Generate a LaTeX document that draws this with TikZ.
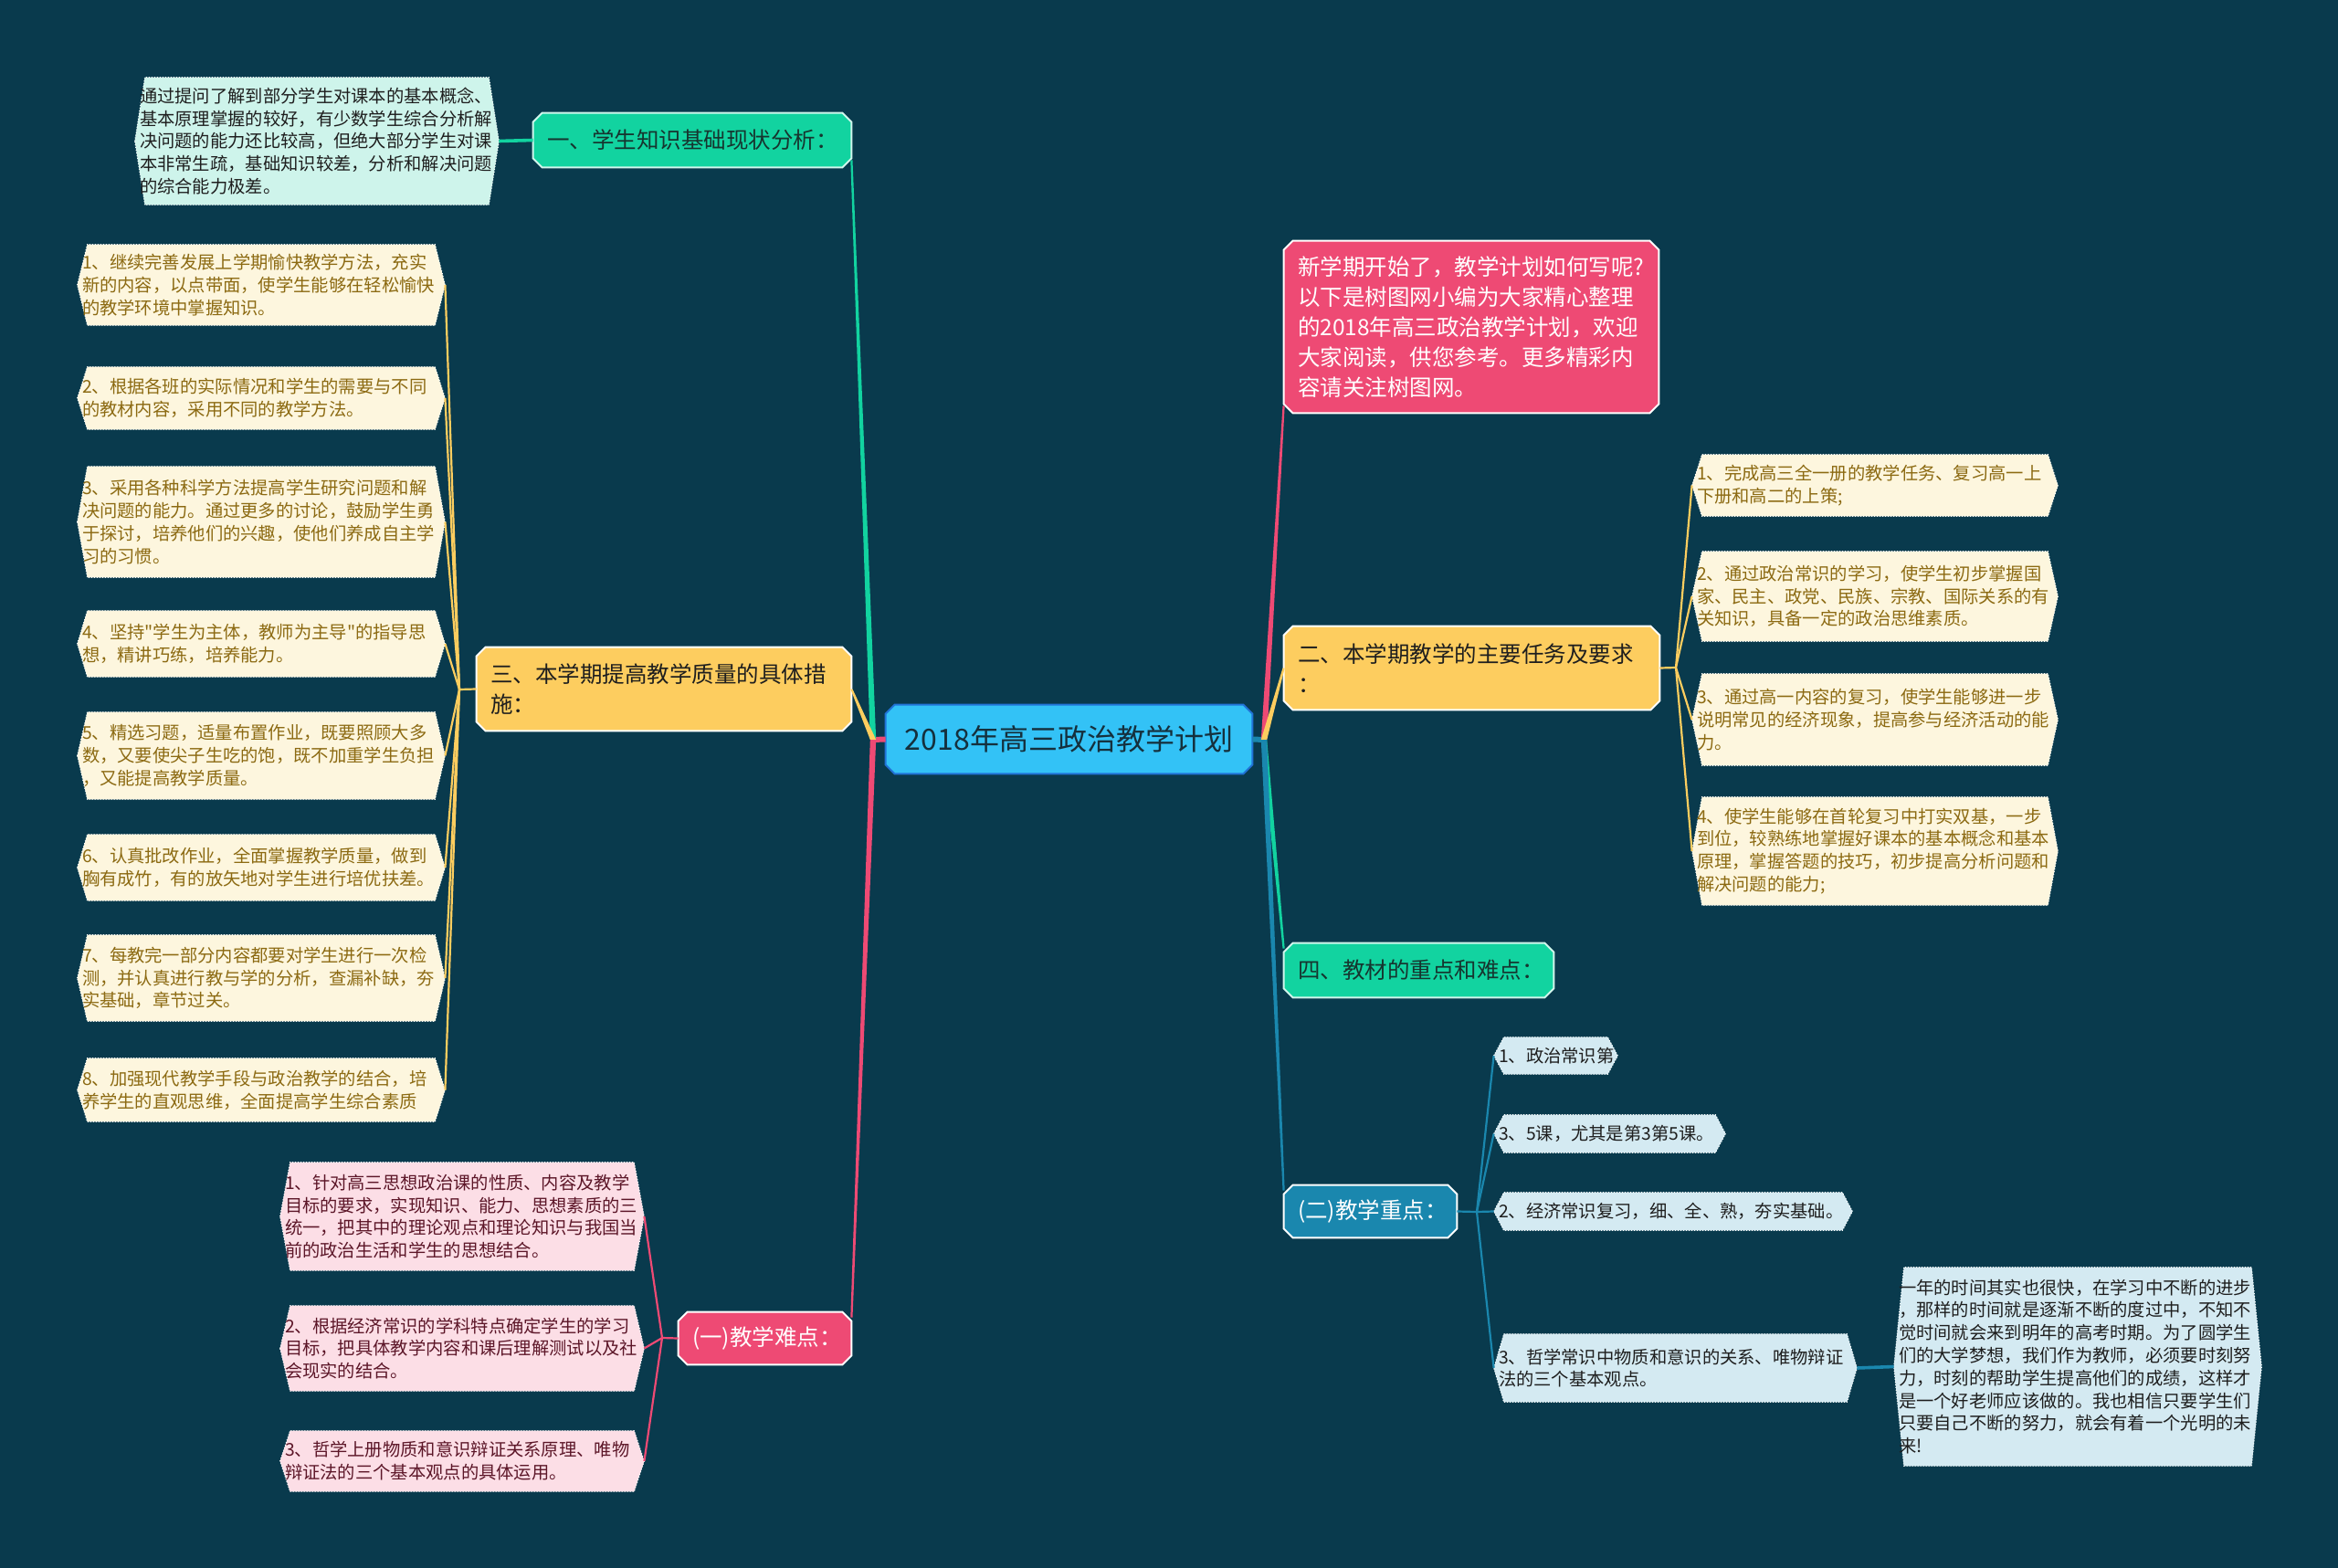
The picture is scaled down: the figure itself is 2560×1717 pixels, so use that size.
\documentclass[tikz,border=0pt]{standalone}
\usepackage{fontspec}
\setmainfont{Noto Sans CJK SC}[Ligatures=TeXOff]
\usetikzlibrary{backgrounds}
\definecolor{bgc}{HTML}{093A4D}
\definecolor{tealc}{HTML}{12D3A0}
\definecolor{yelc}{HTML}{FDCD5F}
\definecolor{pinkc}{HTML}{EE4A74}
\definecolor{dbluec}{HTML}{1A87AE}
\definecolor{centc}{HTML}{33C2F6}
\definecolor{centb}{HTML}{2173D6}
\definecolor{creamc}{HTML}{FDF6DE}
\definecolor{mintc}{HTML}{CEF4EB}
\definecolor{pinklc}{HTML}{FCDEE6}
\definecolor{bluelc}{HTML}{D4EAF2}
\definecolor{goldt}{HTML}{8C6A12}
\definecolor{maroont}{HTML}{5C1628}
\definecolor{darkt}{HTML}{1E1E1E}
\definecolor{tealt}{HTML}{16352F}
\definecolor{centt}{HTML}{15303D}

\tikzset{
  leaftext/.style={inner xsep=2.5pt, inner ysep=0pt, align=left, font=\fontsize{9.65pt}{12.4pt}\selectfont},
  bigtext/.style={inner xsep=7.5pt, inner ysep=0pt, align=left, font=\fontsize{12.25pt}{16.5pt}\selectfont},
  leafedge/.style={line width=1.1pt},
}

% #1 name, #2 fill colour, #3 text colour, #4 x1, #5 y1, #6 x2, #7 y2, #8 text
\newcommand{\leafnode}[8]{%
  \pgfmathsetlengthmacro\lfW{(#6-#4)*0.5pt-5pt}%
  \pgfmathsetlengthmacro\lfH{(#7-#5)*0.5pt}%
  \node[leaftext, text=#3, text width=\lfW, minimum height=\lfH] (#1) at ({(#4+#6)/2},{(#5+#7)/2}) {#8};
  \begin{pgfonlayer}{background}
  \path[fill=#2, draw=white, densely dotted, line width=0.5pt] (#1.west) -- ([xshift=5.5pt]#1.north west) -- ([xshift=-5.5pt]#1.north east) -- (#1.east) -- ([xshift=-5.5pt]#1.south east) -- ([xshift=5.5pt]#1.south west) -- cycle;
  \end{pgfonlayer}}

% #1 name, #2 fill/draw options, #3 text colour, #4 x1, #5 y1, #6 x2, #7 y2, #8 text
\newcommand{\bignode}[8]{%
  \pgfmathsetlengthmacro\lfW{(#6-#4)*0.5pt-15pt}%
  \pgfmathsetlengthmacro\lfH{(#7-#5)*0.5pt}%
  \node[bigtext, text=#3, text width=\lfW, minimum height=\lfH] (#1) at ({(#4+#6)/2},{(#5+#7)/2}) {#8};
  \begin{pgfonlayer}{background}
  \path[#2, line width=1pt] ([xshift=5pt]#1.north west) -- ([xshift=-5pt]#1.north east) -- ([yshift=-5pt]#1.north east) -- ([yshift=5pt]#1.south east) -- ([xshift=-5pt]#1.south east) -- ([xshift=5pt]#1.south west) -- ([yshift=5pt]#1.south west) -- ([yshift=-5pt]#1.north west) -- cycle;
  \end{pgfonlayer}}

% tapered branch: #1 colour, #2 start name, #3 end name
\newcommand{\taper}[3]{%
  \fill[#1] ([xshift=-1.6pt]#2) -- ([xshift=-0.55pt]#3) -- ([xshift=0.55pt]#3) -- ([xshift=1.6pt]#2) -- cycle;}

\begin{document}
\begin{tikzpicture}[x=0.5pt, y=-0.5pt]
\useasboundingbox (0,0) rectangle (2560,1717);
\begin{pgfonlayer}{background}
\fill[bgc] (0,0) rectangle (2560,1717);
\end{pgfonlayer}

% root
\node[font=\fontsize{16pt}{19pt}\selectfont, text=centt, minimum width=200.5pt, minimum height=37.5pt, inner sep=0pt] (root) at (1170.5,809.5) {2018年高三政治教学计划};
\begin{pgfonlayer}{background}
\path[fill=centc, draw=centb, line width=1pt] ([xshift=5pt]root.north west) -- ([xshift=-5pt]root.north east) -- ([yshift=-5pt]root.north east) -- ([yshift=5pt]root.south east) -- ([xshift=-5pt]root.south east) -- ([xshift=5pt]root.south west) -- ([yshift=5pt]root.south west) -- ([yshift=-5pt]root.north west) -- cycle;
\end{pgfonlayer}

% left main nodes
\bignode{A}{fill=tealc, draw=white!80!tealc}{tealt}{584}{124}{932}{183}{一、学生知识基础现状分析：}
\bignode{C}{fill=yelc, draw=white}{darkt}{522}{709}{932}{800}{三、本学期提高教学质量的具体措\\施：}
\bignode{D}{fill=pinkc, draw=white}{white}{743}{1437}{932}{1494}{(一)教学难点：}

% right main nodes
\bignode{I}{fill=pinkc, draw=white}{white}{1406}{264}{1816}{452}{新学期开始了，教学计划如何写呢?\\以下是树图网小编为大家精心整理\\的2018年高三政治教学计划，欢迎\\大家阅读，供您参考。更多精彩内\\容请关注树图网。}
\bignode{B}{fill=yelc, draw=white}{darkt}{1406}{686}{1817}{777}{二、本学期教学的主要任务及要求\\：}
\bignode{E}{fill=tealc, draw=white!80!tealc}{tealt}{1406}{1033}{1701}{1092}{四、教材的重点和难点：}
\bignode{F}{fill=dbluec, draw=white}{white}{1406}{1298}{1595}{1355}{(二)教学重点：}

% leaves
\leafnode{A1}{mintc}{darkt}{148}{85}{546}{224}{通过提问了解到部分学生对课本的基本概念、\\基本原理掌握的较好，有少数学生综合分析解\\决问题的能力还比较高，但绝大部分学生对课\\本非常生疏，基础知识较差，分析和解决问题\\的综合能力极差。}

\leafnode{C1}{creamc}{goldt}{85}{268}{487}{356}{1、继续完善发展上学期愉快教学方法，充实\\新的内容，以点带面，使学生能够在轻松愉快\\的教学环境中掌握知识。}
\leafnode{C2}{creamc}{goldt}{85}{402}{487}{470}{2、根据各班的实际情况和学生的需要与不同\\的教材内容，采用不同的教学方法。}
\leafnode{C3}{creamc}{goldt}{85}{511}{487}{632}{3、采用各种科学方法提高学生研究问题和解\\决问题的能力。通过更多的讨论，鼓励学生勇\\于探讨，培养他们的兴趣，使他们养成自主学\\习的习惯。}
\leafnode{C4}{creamc}{goldt}{85}{669}{487}{741}{4、坚持"学生为主体，教师为主导"的指导思\\想，精讲巧练，培养能力。}
\leafnode{C5}{creamc}{goldt}{85}{780}{487}{875}{5、精选习题，适量布置作业，既要照顾大多\\数，又要使尖子生吃的饱，既不加重学生负担\\，又能提高教学质量。}
\leafnode{C6}{creamc}{goldt}{85}{914}{487}{986}{6、认真批改作业，全面掌握教学质量，做到\\胸有成竹，有的放矢地对学生进行培优扶差。}
\leafnode{C7}{creamc}{goldt}{85}{1024}{487}{1118}{7、每教完一部分内容都要对学生进行一次检\\测，并认真进行教与学的分析，查漏补缺，夯\\实基础，章节过关。}
\leafnode{C8}{creamc}{goldt}{85}{1159}{487}{1228}{8、加强现代教学手段与政治教学的结合，培\\养学生的直观思维，全面提高学生综合素质}

\leafnode{D1}{pinklc}{maroont}{307}{1273}{705}{1391}{1、针对高三思想政治课的性质、内容及教学\\目标的要求，实现知识、能力、思想素质的三\\统一，把其中的理论观点和理论知识与我国当\\前的政治生活和学生的思想结合。}
\leafnode{D2}{pinklc}{maroont}{307}{1430}{705}{1523}{2、根据经济常识的学科特点确定学生的学习\\目标，把具体教学内容和课后理解测试以及社\\会现实的结合。}
\leafnode{D3}{pinklc}{maroont}{307}{1567}{705}{1633}{3、哲学上册物质和意识辩证关系原理、唯物\\辩证法的三个基本观点的具体运用。}

\leafnode{B1}{creamc}{goldt}{1853}{498}{2253}{565}{1、完成高三全一册的教学任务、复习高一上\\下册和高二的上策;}
\leafnode{B2}{creamc}{goldt}{1853}{604}{2253}{702}{2、通过政治常识的学习，使学生初步掌握国\\家、民主、政党、民族、宗教、国际关系的有\\关知识，具备一定的政治思维素质。}
\leafnode{B3}{creamc}{goldt}{1853}{738}{2253}{838}{3、通过高一内容的复习，使学生能够进一步\\说明常见的经济现象，提高参与经济活动的能\\力。}
\leafnode{B4}{creamc}{goldt}{1853}{873}{2253}{991}{4、使学生能够在首轮复习中打实双基，一步\\到位，较熟练地掌握好课本的基本概念和基本\\原理，掌握答题的技巧，初步提高分析问题和\\解决问题的能力;}

\leafnode{F1}{bluelc}{darkt}{1636}{1136}{1771}{1176}{1、政治常识第}
\leafnode{F2}{bluelc}{darkt}{1636}{1221}{1889}{1262}{3、5课，尤其是第3第5课。}
\leafnode{F3}{bluelc}{darkt}{1636}{1306}{2028}{1347}{2、经济常识复习，细、全、熟，夯实基础。}
\leafnode{F4}{bluelc}{darkt}{1636}{1461}{2033}{1535}{3、哲学常识中物质和意识的关系、唯物辩证\\法的三个基本观点。}
\leafnode{F5}{bluelc}{darkt}{2074}{1388}{2476}{1605}{一年的时间其实也很快，在学习中不断的进步\\，那样的时间就是逐渐不断的度过中，不知不\\觉时间就会来到明年的高考时期。为了圆学生\\们的大学梦想，我们作为教师，必须要时刻努\\力，时刻的帮助学生提高他们的成绩，这样才\\是一个好老师应该做的。我也相信只要学生们\\只要自己不断的努力，就会有着一个光明的未\\来!}

% junctions
\coordinate (JL) at (956,810);
\coordinate (JR) at (1384,810);
\coordinate (JC) at (503,755);
\coordinate (JD) at (725,1465);
\coordinate (JB) at (1835,731);
\coordinate (JF) at (1617,1327);
\coordinate (Aend) at ([yshift=4pt]A.south east);
\coordinate (Iend) at ([yshift=4pt]I.south west);
\coordinate (Dend) at ([yshift=-3pt]D.north east);
\coordinate (Eend) at ([yshift=-3pt]E.north west);
\coordinate (Fend) at ([yshift=-3pt]F.north west);

% main branches
\draw[pinkc, line width=3pt] (root.west) -- (JL);
\draw[dbluec, line width=3pt] (root.east) -- (JR);
\taper{tealc}{JL}{Aend}
\taper{yelc}{JL}{C.east}
\taper{pinkc}{JL}{Dend}
\taper{pinkc}{JR}{Iend}
\taper{yelc}{JR}{B.west}
\taper{tealc}{JR}{Eend}
\taper{dbluec}{JR}{Fend}

% leaf connectors
\draw[tealc, line width=1.8pt] (A.west) -- (A1.east);
\draw[yelc, leafedge] (C.west) -- (JC);
\foreach \n in {C1,C2,C3,C4,C5,C6,C7,C8} \draw[yelc, leafedge] (JC) -- (\n.east);
\draw[pinkc, leafedge] (D.west) -- (JD);
\foreach \n in {D1,D2,D3} \draw[pinkc, leafedge] (JD) -- (\n.east);
\draw[yelc, leafedge] (B.east) -- (JB);
\foreach \n in {B1,B2,B3,B4} \draw[yelc, leafedge] (JB) -- (\n.west);
\draw[dbluec, leafedge] (F.east) -- (JF);
\foreach \n in {F1,F2,F3,F4} \draw[dbluec, leafedge] (JF) -- (\n.west);
\draw[dbluec, line width=1.8pt] (F4.east) -- (F5.west);
\end{tikzpicture}
\end{document}
